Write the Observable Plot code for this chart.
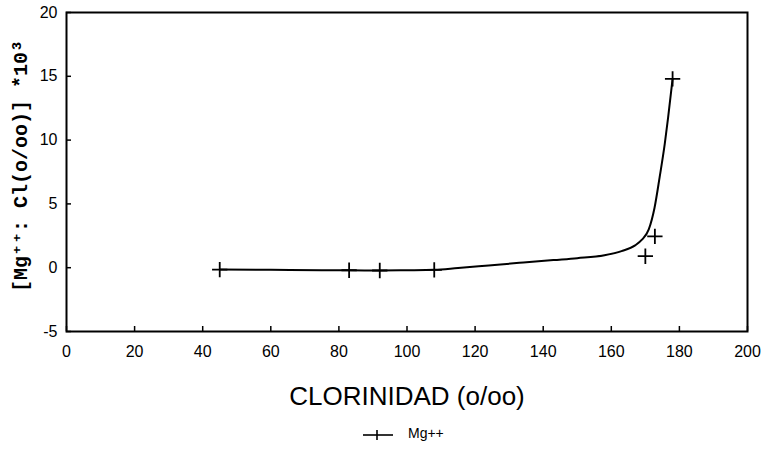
<!DOCTYPE html>
<html>
<head>
<meta charset="utf-8">
<script src="https://cdn.jsdelivr.net/npm/d3@7"></script>
<script src="https://cdn.jsdelivr.net/npm/@observablehq/plot@0.6"></script>
<style>
  html, body { margin: 0; padding: 0; background: #fff; }
  #chart { width: 767px; }
  #legend { position: relative; height: 29px; width: 767px; font-family: "Liberation Sans", Arial, sans-serif; font-size: 14px; color: #000; }
  #legend svg { position: absolute; left: 361px; top: 8px; }
  #legend span { position: absolute; left: 408px; top: 5px; }
</style>
</head>
<body>
<div id="chart"></div>
<div id="legend">
  <svg width="34" height="14"><line x1="2" y1="7" x2="32" y2="7" stroke="#000" stroke-width="1.6"/><line x1="16" y1="2" x2="16" y2="12" stroke="#000" stroke-width="1.6"/></svg>
  <span>Mg++</span>
</div>
<script>
// Chlorinity (o/oo) of the samples
const clorinidad = [45, 83, 92, 108, 170, 172.8, 178];
// [Mg++ : Cl(o/oo)] * 10^3 measured at each sample
const mgRatio = [-0.15, -0.2, -0.22, -0.17, 0.9, 2.45, 14.8];

// Fitted trend curve drawn through the samples
const curveX = [45, 60, 75, 83, 92, 100, 108, 115, 124, 133, 143, 150, 158, 163, 167, 169, 171, 172.7, 174.2, 175.7, 176.7, 178];
const curveY = [-0.15, -0.17, -0.2, -0.2, -0.22, -0.2, -0.17, -0.02, 0.18, 0.38, 0.6, 0.75, 0.98, 1.3, 1.75, 2.2, 3.0, 4.7, 7.1, 9.7, 11.8, 14.8];

const xTicks = [0, 20, 40, 60, 80, 100, 120, 140, 160, 180, 200];
const yTicks = [-5, 0, 5, 10, 15, 20];

const points = clorinidad.map((x, i) => ({x, y: mgRatio[i]}));
const curve = curveX.map((x, i) => ({x, y: curveY[i]}));

const W = 767, H = 420;
const M = {top: 12, right: 20, bottom: 89, left: 66};
const innerW = W - M.left - M.right;
const innerH = H - M.top - M.bottom;
const tickLen = 5;

const chart = Plot.plot({
  width: W,
  height: H,
  marginTop: M.top,
  marginBottom: M.bottom,
  marginLeft: M.left,
  marginRight: M.right,
  style: {fontFamily: "'Liberation Sans', Arial, sans-serif", fontSize: "16px", color: "#000", background: "#fff"},
  x: {domain: [0, 200]},
  y: {domain: [-5, 20]},
  marks: [
    Plot.axisX({ticks: xTicks, tickSize: 0, tickPadding: 14, label: null, fontSize: 16, tickFormat: d => String(d)}),
    Plot.axisY({ticks: yTicks, tickSize: 0, tickPadding: 9, label: null, fontSize: 16, tickFormat: d => String(d)}),
    // short inward tick marks on the bottom and left edges
    Plot.tickX(xTicks, {x: d => d, stroke: "#000", strokeWidth: 1.5, insetTop: innerH - tickLen}),
    Plot.tickY(yTicks, {y: d => d, stroke: "#000", strokeWidth: 1.5, insetRight: innerW - tickLen}),
    Plot.frame({stroke: "#000", strokeWidth: 2}),
    Plot.line(curve, {x: "x", y: "y", stroke: "#000", strokeWidth: 2, curve: "monotone-x"}),
    Plot.dot(points, {x: "x", y: "y", symbol: "plus", r: 5, stroke: "#000", strokeWidth: 1.8}),
    Plot.text(["CLORINIDAD (o/oo)"], {frameAnchor: "bottom", dy: 65, lineAnchor: "middle", textAnchor: "middle", fontSize: 26, text: d => d}),
    Plot.text(["[Mg\u207A\u207A: Cl(o/oo)] *10\u00B3"], {frameAnchor: "left", dx: -46, dy: -6, rotate: -90, lineAnchor: "middle", textAnchor: "middle", fontSize: 20, fontWeight: "bold", fontFamily: "'Liberation Mono', 'DejaVu Sans Mono', monospace", text: d => d})
  ]
});
document.getElementById("chart").appendChild(chart);
</script>
</body>
</html>
